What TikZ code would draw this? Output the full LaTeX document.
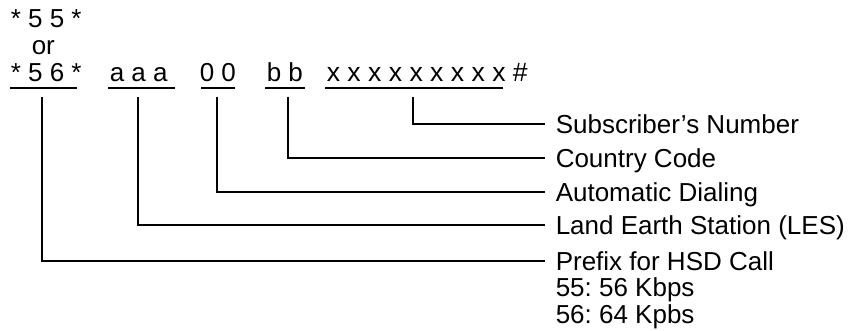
\documentclass[tikz,border=0pt]{standalone}
\usepackage{fontspec}
\setmainfont{Liberation Sans}
\usepackage{tikz}
\frenchspacing

\tikzset{
  code/.style={inner sep=0pt, anchor=base west, font=\fontsize{13pt}{15pt}\selectfont},
  lbl/.style={inner xsep=5pt, inner ysep=0pt, text height=9.3pt, text depth=0pt,
              anchor=west, font=\fontsize{13pt}{15pt}\selectfont},
}

\begin{document}
\begin{tikzpicture}[x=0.5pt, y=-0.5pt, line width=0.75pt]
  \useasboundingbox (0,0) rectangle (851,331);
  % Dialing string
  \node[code] (c55) at (10,28) {* 5 5 *};
  \node[code] (cor) at (31,55) {or};
  \node[code] (c56) at (10,82) {* 5 6 *};
  \node[code] (caaa) at (109,82) {a a a};
  \node[code] (c00) at (199,82) {0 0};
  \node[code] (cbb) at (266,82) {b b};
  \node[code, font=\fontsize{13.3pt}{15pt}\selectfont] (cnum) at (326,82) {x x x x x x x x x \#};
  % Underline each group
  \foreach \a/\b in {10/77,108/175,201/235,265/305,325/503}
    \draw (\a,88) -- (\b,88);
  % Labels on the right
  \node[lbl] (lsub) at (545,124) {Subscriber’s Number};
  \node[lbl] (lcc) at (545,158) {Country Code};
  \node[lbl] (lauto) at (545,192) {Automatic Dialing};
  \node[lbl] (lles) at (545,225) {Land Earth Station (LES)};
  \node[lbl] (lpre) at (545,261) {Prefix for HSD Call};
  \node[code] (lk55) at (555,297) {55: 56 Kbps};
  \node[code] (lk56) at (555,323) {56: 64 Kpbs};
  % Start points below the groups
  \foreach \n/\x in {pre/42,les/138,auto/217,cc/288,sub/413}
    \coordinate (t\n) at (\x,97);
  % Brackets
  \foreach \n in {pre,les,auto,cc,sub}
    \draw (t\n) |- (l\n);
\end{tikzpicture}
\end{document}
